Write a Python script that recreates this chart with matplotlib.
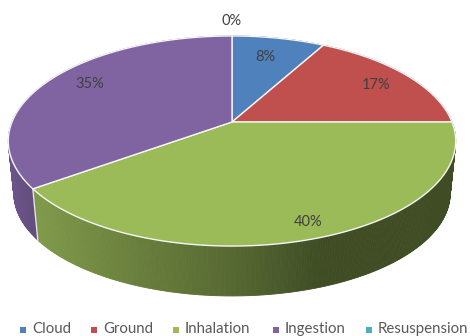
import matplotlib
matplotlib.use('Agg')
import matplotlib.pyplot as plt
import numpy as np

plt.rcParams['font.family'] = ['Lato', 'DejaVu Sans']

# data
categories = ['Cloud', 'Ground', 'Inhalation', 'Ingestion', 'Resuspension']
shares = [8, 17, 40, 35, 0]
colors = ['#4f81bd', '#c0504d', '#9bbb59', '#8064a2', '#4bacc6']

# pixel position of each percent label, same order as categories
label_xy = [(265, 57), (376, 85), (308, 222), (90, 84), (232, 21)]
legend_x = [23, 94, 176, 276, 369]

# perspective of the disc
cx, cy = 232, 122
A, B, k = 220, 101.6, 0.181
drop, shrink = 53, 0.975


def rim(theta, depth=False):
    # theta is clockwise from twelve o'clock, in radians
    x, y = np.sin(theta), np.cos(theta)
    w = 1 + k * y
    px, py = A * x / w, -B * y / w
    if depth:
        return cx + shrink * px, cy + shrink * py + drop
    return cx + px, cy + py


def side_shade(px, idx):
    if categories[idx] == 'Ingestion':
        return np.interp(px, [8, 45], [0.84, 0.74])
    return np.interp(px, [35, 120, 232, 320, 450], [0.82, 0.70, 0.56, 0.41, 0.41])


fig = plt.figure(figsize=(4.7, 3.36), dpi=100)
ax = fig.add_axes([0, 0, 1, 1])
ax.set_xlim(0, 470)
ax.set_ylim(336, 0)
ax.axis('off')

edges = np.cumsum([0] + shares) / 100 * 2 * np.pi

# side wall, one thin strip at a time so the shading can change along it
for i in range(len(shares)):
    if shares[i] == 0:
        continue
    steps = np.linspace(edges[i], edges[i + 1], max(2, shares[i] * 6))
    base = np.array(matplotlib.colors.to_rgb(colors[i]))
    for t0, t1 in zip(steps[:-1], steps[1:]):
        x0, y0 = rim(t0)
        x1, y1 = rim(t1)
        x2, y2 = rim(t1, True)
        x3, y3 = rim(t0, True)
        c = base * side_shade((x0 + x1) / 2, i)
        ax.fill([x0, x1, x2, x3], [y0, y1, y2, y3], color=c, lw=0.6, zorder=2)

# seam where the purple and green walls meet
seam = edges[3]
ax.plot(*zip(rim(seam), rim(seam, True)), color='#e4e4e4', lw=1.0, zorder=3)

# top face
for i in range(len(shares)):
    if shares[i] == 0:
        continue
    t = np.linspace(edges[i], edges[i + 1], 200)
    px, py = rim(t)
    ax.fill(np.r_[cx, px], np.r_[cy, py], facecolor=colors[i], edgecolor='#f6f6f6',
            lw=1.0, joinstyle='round', zorder=4)

for i, v in enumerate(shares):
    ax.text(label_xy[i][0], label_xy[i][1], f'{v}%', fontsize=10.5, color='#404040',
            ha='center', va='center', zorder=5)

# legend along the bottom edge
for name, col, lx in zip(categories, colors, legend_x):
    ax.scatter([lx], [330], marker='s', s=14, color=col, linewidths=0, zorder=5)
    ax.text(lx + 9, 329, name, fontsize=10.8, color='#595959', ha='left', va='center', zorder=5)

fig.savefig('out.png', dpi=100)
